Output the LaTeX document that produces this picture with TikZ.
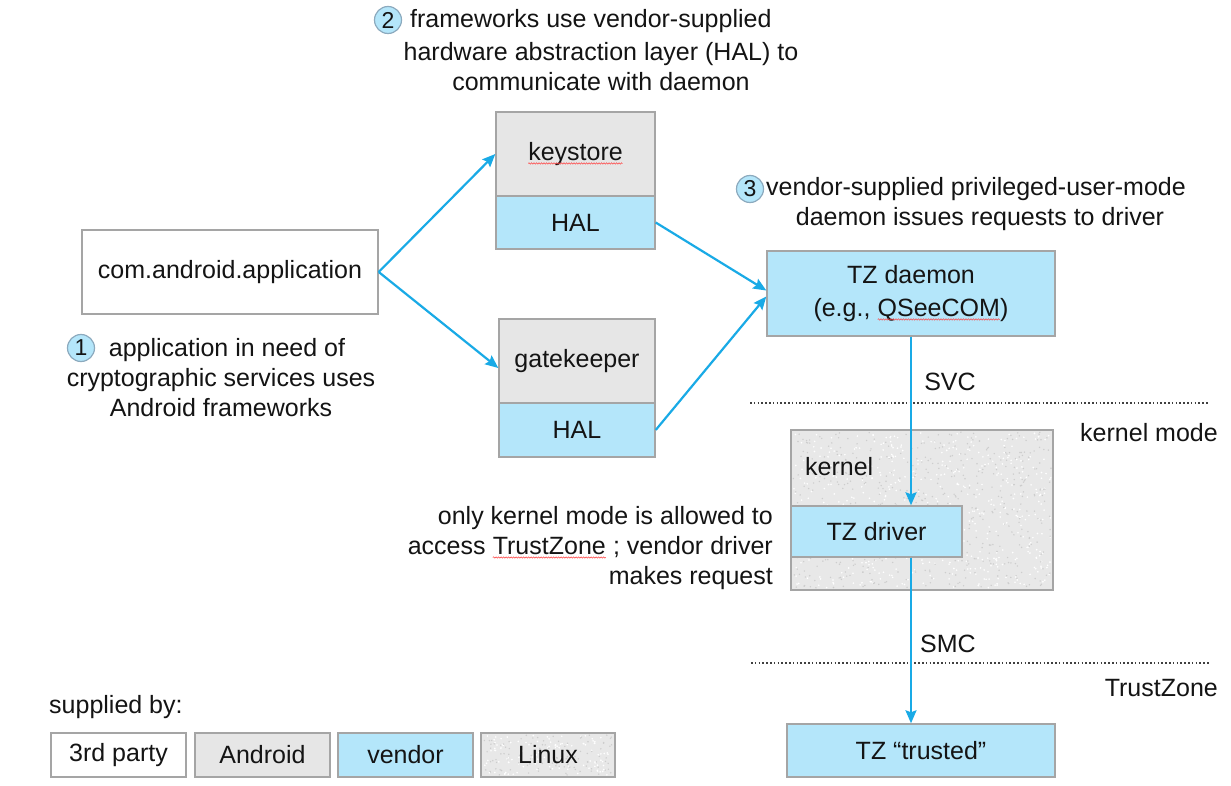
\documentclass[tikz,border=0pt]{standalone}
\usepackage{fontspec}
\setmainfont{Liberation Sans}
\usetikzlibrary{arrows.meta,decorations.pathmorphing,calc}
\definecolor{vend}{RGB}{180,230,250}
\definecolor{andr}{RGB}{230,230,230}
\definecolor{bord}{RGB}{165,165,165}
\definecolor{arrc}{RGB}{25,170,230}
\definecolor{linx}{RGB}{232,232,232}
\definecolor{speck}{RGB}{205,205,205}
\definecolor{circb}{RGB}{140,170,190}
\definecolor{txtc}{RGB}{20,20,20}
\newcommand\fs{\fontsize{25}{30}\selectfont}
\newcommand\squig[1]{\tikz[baseline=(w.base)]{\node[shape=rectangle,inner sep=0pt,outer sep=0pt,minimum width=0pt,minimum height=0pt,draw=none,fill=none](w){#1};\draw[red!75,line width=0.5pt,decorate,decoration={snake,amplitude=0.7pt,segment length=2.5pt}] ([yshift=-3pt]w.base west) -- ([yshift=-3pt]w.base east);}}
\newcommand\speckles[5]{%
  \foreach \k in {1,...,#5}{%
    \pgfmathsetmacro\px{#1+(#3-#1)*rnd}%
    \pgfmathsetmacro\py{#2+(#4-#2)*rnd}%
    \fill[white] (\px,\py) circle (0.9pt);
    \pgfmathsetmacro\qx{#1+(#3-#1)*rnd}%
    \pgfmathsetmacro\qy{#2+(#4-#2)*rnd}%
    \fill[speck] (\qx,\qy) circle (0.8pt);
  }}
\begin{document}
\begin{tikzpicture}[x=1pt,y=-1pt,
  txt/.style={font=\fs,text=txtc,inner sep=0pt},
  box/.style={draw=bord,line width=1.4pt,font=\fs,text=txtc,inner sep=0pt,align=center},
  whitebox/.style={box,fill=white},
  andbox/.style={box,fill=andr},
  vendbox/.style={box,fill=vend},
  linuxbox/.style={box,fill=linx},
  stepnum/.style={circle,draw=circb,line width=1.2pt,fill=vend,minimum size=27pt,inner sep=0pt,font=\fontsize{23}{23}\selectfont,text=txtc},
  arr/.style={draw=arrc,line width=2.2pt,-{Stealth[length=13pt,width=11pt,inset=2pt]}},
  dotline/.style={draw=black!75,line width=2pt,dash pattern=on 1.6pt off 2.2pt}
]
\useasboundingbox (0,0) rectangle (1231,786);
\fill[white] (0,0) rectangle (1231,786);
\pgfmathsetseed{12}

% dotted separators
\coordinate (d1a) at (750,403);
\coordinate (d1b) at (1208,403);
\coordinate (d2a) at (751,663);
\coordinate (d2b) at (1210,663);
\draw[dotline] (d1a) -- (d1b);
\draw[dotline] (d2a) -- (d2b);

% step 2
\node[stepnum] (s2c) at (388,20) {2};
\node[txt,anchor=west] (s2a) at (410,21) {frameworks use vendor-supplied};
\node[txt,align=center] (s2b) at (601,67) {hardware abstraction layer (HAL) to\\communicate with daemon};

% keystore / gatekeeper
\node[andbox,minimum width=159pt,minimum height=84pt] (ks) at (575.5,154) {\squig{keystore}};
\node[vendbox,minimum width=159pt,minimum height=53pt] (ksh) at (575.5,222.5) {HAL};
\node[andbox,minimum width=156pt,minimum height=84pt] (gk) at (577,361) {gatekeeper};
\node[vendbox,minimum width=156pt,minimum height=54pt] (gkh) at (577,430) {HAL};

% application
\node[whitebox,minimum width=296pt,minimum height=84pt] (app) at (230,272) {com.android.application};
\node[stepnum] (s1c) at (81,348) {1};
\node[txt,align=center] (s1) at (221,378) {\hspace*{12pt}application in need of\\cryptographic services uses\\Android frameworks};

% step 3 and daemon
\node[stepnum] (s3c) at (750,189) {3};
\node[txt,anchor=west] (s3a) at (766,189) {vendor-supplied privileged-user-mode};
\node[txt] (s3b) at (980,219) {daemon issues requests to driver};
\node[vendbox,minimum width=288pt,minimum height=85pt] (td) at (911,293.5) {TZ daemon\\[3pt](e.g., \squig{QSeeCOM})};

\node[txt] (svc) at (950,382) {SVC};
\node[txt,anchor=east] (km) at (1218,433) {kernel mode};

% kernel (Linux texture)
\node[linuxbox,minimum width=262pt,minimum height=160pt] (kern) at (922,510) {};
\speckles{793}{432}{1051}{588}{550}
\draw[bord,line width=1.4pt] (kern.south west) rectangle (kern.north east);
\node[txt,anchor=west] (kl) at (805,467) {kernel};
\node[vendbox,minimum width=171pt,minimum height=51pt] (drv) at (876.5,531.5) {TZ driver};

\node[txt,align=right,anchor=east] (lt) at (773,548) {only kernel mode is allowed to\\access \squig{TrustZone} ; vendor driver\\makes request};

\node[txt] (smc) at (948,644) {SMC};
\node[txt,anchor=east] (tzl) at (1218,688) {TrustZone};
\node[vendbox,minimum width=268pt,minimum height=53pt] (tr) at (921,750.5) {TZ “trusted”};

% arrows
\draw[arr] (app.east) -- (ks.west);
\draw[arr] (app.east) -- ([yshift=-7pt]gk.west);
\draw[arr] (ksh.east) -- ([yshift=3pt]td.west);
\draw[arr] (gkh.east) -- ([yshift=-3pt]td.west);
\draw[arr] (td.south) -- (td.south |- drv.north);
\draw[arr] (td.south |- drv.south) -- (td.south |- tr.north);

% legend
\node[txt,anchor=west] (sup) at (49,707) {supplied by:};
\node[whitebox,minimum width=135pt,minimum height=44pt] (lg1) at (118.5,755) {3rd party};
\node[andbox,minimum width=135pt,minimum height=44pt] (lg2) at (262.5,755) {Android};
\node[vendbox,minimum width=135pt,minimum height=44pt] (lg3) at (405.5,755) {vendor};
\node[linuxbox,minimum width=134pt,minimum height=44pt] (lg4) at (548,755) {};
\speckles{483}{735}{613}{775}{110}
\draw[bord,line width=1.4pt] (lg4.south west) rectangle (lg4.north east);
\node[txt] (lg4t) at (lg4) {Linux};
\end{tikzpicture}
\end{document}
